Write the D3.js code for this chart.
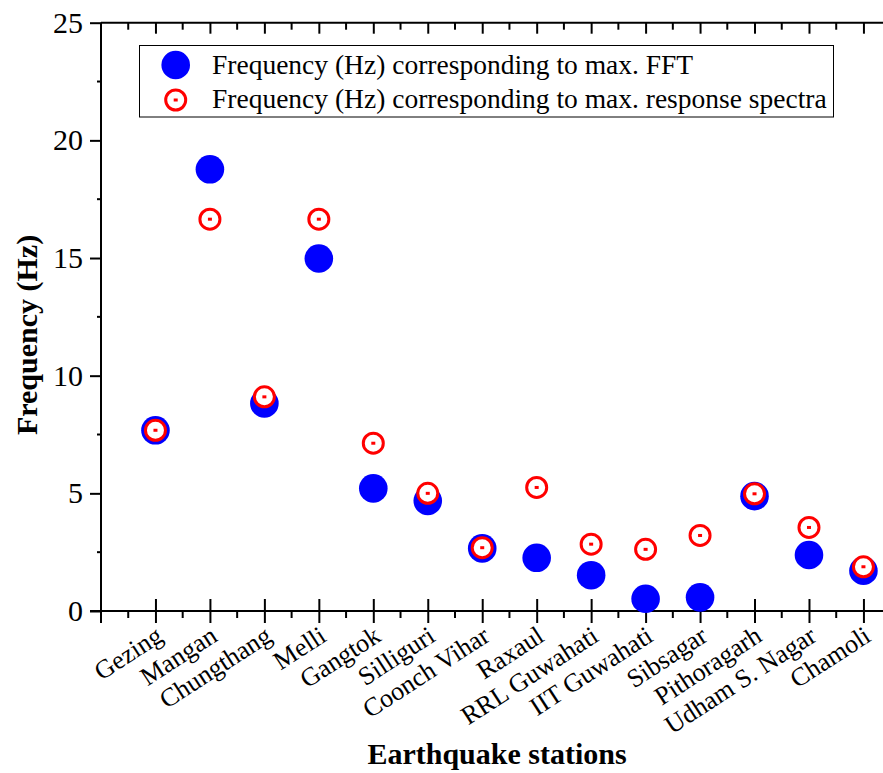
<!DOCTYPE html>
<html>
<head>
<meta charset="utf-8">
<script src="https://cdn.jsdelivr.net/npm/d3@7"></script>
<style>
  body { margin: 0; background: #fff; }
  svg { display: block; }
  text { font-family: "Liberation Serif", "Times New Roman", serif; fill: #000; }
</style>
</head>
<body>
<svg id="chart" width="883" height="773"></svg>
<script>
// Stations and the two dominant-frequency estimates per station (Hz)
const stations = ["Gezing", "Mangan", "Chungthang", "Melli", "Gangtok", "Silliguri", "Coonch Vihar",
  "Raxaul", "RRL Guwahati", "IIT Guwahati", "Sibsagar", "Pithoragarh", "Udham S. Nagar", "Chamoli"];
const fftFreq     = [7.68, 18.77, 8.82, 14.98, 5.21, 4.68, 2.66, 2.26, 1.52, 0.52, 0.58, 4.88, 2.38, 1.71];
const spectraFreq = [7.68, 16.65, 9.10, 16.65, 7.13, 5.00, 2.69, 5.25, 2.84, 2.62, 3.21, 4.98, 3.55, 1.88];
const yTicks = [0, 5, 10, 15, 20, 25];
const yMinorTicks = [2.5, 7.5, 12.5, 17.5, 22.5];
const seriesNames = ["Frequency (Hz) corresponding to max. FFT",
                     "Frequency (Hz) corresponding to max. response spectra"];
const xLabel = "Earthquake stations";
const yLabel = "Frequency (Hz)";

const svg = d3.select("#chart");
const plotLeft = 101, plotTop = 22.7, plotBottom = 611, step = 54.46;

// station i sits at index i+1; the frame spans indices 0..15
const x = d3.scaleLinear().domain([0, 15]).range([plotLeft, plotLeft + 15 * step]);
const y = d3.scaleLinear().domain([0, 25]).range([plotBottom, plotTop]);
const idx = d3.range(1, stations.length + 1);
const halfIdx = d3.range(0.5, 15, 1);

function line(g, x1, y1, x2, y2) {
  return g.append("line").attr("x1", x1).attr("y1", y1).attr("x2", x2).attr("y2", y2)
    .attr("stroke", "#000").attr("stroke-width", 2);
}

// ---- left axis ----
const yAxis = svg.append("g").attr("transform", `translate(${plotLeft},0)`)
  .call(d3.axisLeft(y).tickValues(yTicks).tickSize(11).tickSizeOuter(0).tickPadding(7));
yAxis.select(".domain").remove();
yAxis.attr("font-size", null).attr("font-family", null);
yAxis.selectAll(".tick line").attr("stroke-width", 2);
yAxis.selectAll(".tick text").attr("font-size", 30);
yAxis.selectAll(".minor").data(yMinorTicks).enter().append("line")
  .attr("x1", -4).attr("x2", 0).attr("y1", d => y(d)).attr("y2", d => y(d))
  .attr("stroke", "#000").attr("stroke-width", 2);
line(svg, plotLeft, plotTop, plotLeft, plotBottom + 12);

// ---- bottom axis ----
const xAxis = svg.append("g").attr("transform", `translate(0,${plotBottom})`)
  .call(d3.axisBottom(x).tickValues(idx).tickSize(12).tickSizeOuter(0).tickFormat(""));
xAxis.select(".domain").remove();
xAxis.selectAll(".tick line").attr("y1", -12).attr("stroke-width", 2);
xAxis.selectAll(".minor").data(halfIdx).enter().append("line")
  .attr("x1", d => x(d)).attr("x2", d => x(d)).attr("y1", 0).attr("y2", 7)
  .attr("stroke", "#000").attr("stroke-width", 2);
line(svg, plotLeft - 11, plotBottom, 883, plotBottom);

// ---- top axis (ticks pointing inward) ----
const tAxis = svg.append("g").attr("transform", `translate(0,${plotTop})`)
  .call(d3.axisTop(x).tickValues(idx.concat([15])).tickSize(-11).tickSizeOuter(0).tickFormat(""));
tAxis.select(".domain").remove();
tAxis.selectAll(".tick line").attr("stroke-width", 2);
tAxis.selectAll(".minor").data(halfIdx).enter().append("line")
  .attr("x1", d => x(d)).attr("x2", d => x(d)).attr("y1", 0).attr("y2", 7)
  .attr("stroke", "#000").attr("stroke-width", 2);
line(svg, plotLeft, plotTop, 883, plotTop);

// ---- station labels ----
svg.append("g").selectAll("text").data(stations).enter().append("text")
  .attr("transform", (d, i) => `translate(${x(i + 1) + 9},${plotBottom + 29}) rotate(-33)`)
  .attr("text-anchor", "end")
  .attr("font-size", 26)
  .text(d => d);

// ---- axis titles ----
svg.append("text")
  .attr("transform", `translate(37,335) rotate(-90)`)
  .attr("text-anchor", "middle")
  .attr("font-size", 30).attr("font-weight", "bold")
  .text(yLabel);
svg.append("text")
  .attr("x", 497).attr("y", 764)
  .attr("text-anchor", "middle")
  .attr("font-size", 30).attr("font-weight", "bold")
  .text(xLabel);

// ---- markers ----
function fftMarker(g) {
  g.append("circle").attr("r", 14.3).attr("fill", "#0000ff");
}
function spectraMarker(g) {
  g.append("circle").attr("r", 10).attr("fill", "#fff").attr("stroke", "#ff0000").attr("stroke-width", 3);
  g.append("rect").attr("x", -2).attr("y", -1.5).attr("width", 4).attr("height", 3).attr("fill", "#ff0000");
}

svg.append("g").selectAll("g").data(fftFreq).enter().append("g")
  .attr("transform", (d, i) => `translate(${x(i + 1)},${y(d)})`)
  .each(function () { fftMarker(d3.select(this)); });
svg.append("g").selectAll("g").data(spectraFreq).enter().append("g")
  .attr("transform", (d, i) => `translate(${x(i + 1)},${y(d)})`)
  .each(function () { spectraMarker(d3.select(this)); });

// ---- legend ----
const legend = svg.append("g");
legend.append("rect").attr("x", 139.5).attr("y", 45.5).attr("width", 694).attr("height", 71.5)
  .attr("fill", "#fff").attr("stroke", "#000").attr("stroke-width", 1);
const markers = [fftMarker, spectraMarker];
seriesNames.forEach((name, k) => {
  const row = legend.append("g").attr("transform", `translate(175.7,${65 + k * 35})`);
  markers[k](row);
  legend.append("text").attr("x", 212).attr("y", 74 + k * 34).attr("font-size", 27.5).text(name);
});
</script>
</body>
</html>
